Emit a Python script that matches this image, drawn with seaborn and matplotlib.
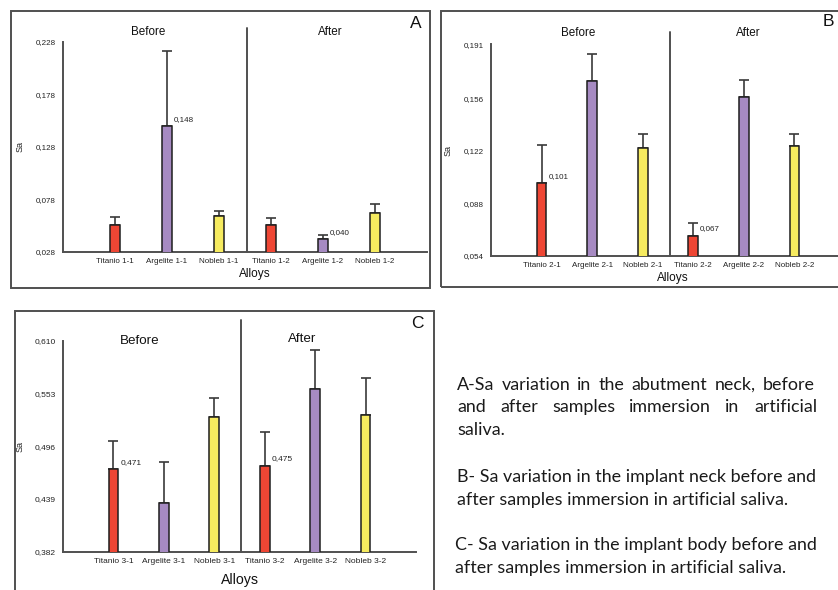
import matplotlib
matplotlib.use("Agg")
import matplotlib.pyplot as plt
from matplotlib.patches import Rectangle
import numpy as np
import pandas as pd
import seaborn as sns

# ---------------- data ----------------
cats_A = ["Titanio 1-1", "Argelite 1-1", "Nobleb 1-1", "Titanio 1-2", "Argelite 1-2", "Nobleb 1-2"]
sa_A = [0.054, 0.148, 0.062, 0.054, 0.040, 0.065]
upper_A = [0.061, 0.219, 0.067, 0.060, 0.044, 0.074]
ticks_A = [0.028, 0.078, 0.128, 0.178, 0.228]
ticklabels_A = ["0,028", "0,078", "0,128", "0,178", "0,228"]
vlabels_A = {1: "0,148", 4: "0,040"}

cats_B = ["Titanio 2-1", "Argelite 2-1", "Nobleb 2-1", "Titanio 2-2", "Argelite 2-2", "Nobleb 2-2"]
sa_B = [0.101, 0.167, 0.124, 0.067, 0.157, 0.125]
upper_B = [0.126, 0.185, 0.133, 0.075, 0.168, 0.133]
ticks_B = [0.054, 0.088, 0.122, 0.156, 0.191]
ticklabels_B = ["0,054", "0,088", "0,122", "0,156", "0,191"]
vlabels_B = {0: "0,101", 3: "0,067"}

cats_C = ["Titanio 3-1", "Argelite 3-1", "Nobleb 3-1", "Titanio 3-2", "Argelite 3-2", "Nobleb 3-2"]
sa_C = [0.471, 0.435, 0.528, 0.475, 0.558, 0.530]
upper_C = [0.502, 0.479, 0.548, 0.511, 0.600, 0.570]
ticks_C = [0.382, 0.439, 0.496, 0.553, 0.610]
ticklabels_C = ["0,382", "0,439", "0,496", "0,553", "0,610"]
vlabels_C = {0: "0,471", 3: "0,475"}

colors = ["#EE4634", "#A68AC2", "#F6EB5F", "#EE4634", "#A68AC2", "#F6EB5F"]

caption_A = ["A-Sa variation in the abutment neck, before",
             "and after samples immersion in artificial",
             "saliva."]
caption_B = ["B- Sa variation in the implant neck before and",
             "after samples immersion in artificial saliva."]
caption_C = ["C- Sa variation in the implant body before and",
             "after samples immersion in artificial saliva."]

# ---------------- style ----------------
sns.set_theme(style="white")
plt.rcParams["font.family"] = ["Liberation Sans", "DejaVu Sans"]

W, H = 838, 590
fig = plt.figure(figsize=(W / 100, H / 100), dpi=100)
fig.patch.set_facecolor("white")

GRAY = "#505050"


def fx(px):
    return px / W


def fy(py):
    return 1 - py / H


def rect(l, t, r, b):
    return [fx(l), fy(b), (r - l) / W, (b - t) / H]


def frame(l, t, r, b):
    fig.patches.append(Rectangle((fx(l), fy(b)), (r - l) / W, (b - t) / H,
                                 transform=fig.transFigure, fill=False,
                                 edgecolor=GRAY, linewidth=1.4, zorder=0))


def panel(box, cats, vals, upper, ticks, ticklabels, vlabels, ylim,
          divider_top_px, before_xy, after_xy, letter_xy, letter,
          alloys_xy, sa_xy, fs_tick, fs_head, fs_alloys):
    l, t, r, b = box
    ax = fig.add_axes(rect(l, t, r, b))
    ax.set_facecolor("none")
    df = pd.DataFrame({"Alloy": cats, "Sa": vals})
    sns.barplot(data=df, x="Alloy", y="Sa", hue="Alloy", order=cats, hue_order=cats,
                palette=colors, saturation=1, width=0.19, edgecolor="#1e1e1e",
                linewidth=1.1, legend=False, ax=ax, zorder=3)
    err = [np.zeros(len(vals)), np.array(upper) - np.array(vals)]
    ax.errorbar(np.arange(len(cats)), vals, yerr=err, fmt="none", ecolor="#3a3a3a",
                elinewidth=1.2, capsize=3.6, capthick=1.2, zorder=2)
    ax.set_xlim(-1, 6)
    ax.set_ylim(*ylim)
    ax.set_yticks(ticks)
    ax.set_yticklabels(ticklabels, fontsize=fs_tick, color="#222222")
    ax.set_xticks(range(len(cats)))
    ax.set_xticklabels(cats, fontsize=fs_tick, color="#222222")
    ax.set_xticks([6], minor=True)
    ax.tick_params(axis="both", which="both", direction="out", length=3, width=1,
                   color=GRAY, pad=2)
    ax.tick_params(axis="x", which="major", pad=1.5)
    ax.set_xlabel("")
    ax.set_ylabel("")
    for s in ["top", "right"]:
        ax.spines[s].set_visible(False)
    for s in ["left", "bottom"]:
        ax.spines[s].set_color(GRAY)
        ax.spines[s].set_linewidth(1.4)
    for i, txt in vlabels.items():
        ax.annotate(txt, (i, vals[i]), xytext=(5, 5), textcoords="offset points",
                    ha="left", va="center", fontsize=fs_tick, color="#222222")
    # divider
    ymax = (b - divider_top_px) / (b - t)
    ax.axvline(2.53, ymin=0, ymax=ymax, color=GRAY, linewidth=1.4, clip_on=False)
    fig.text(fx(before_xy[0]), fy(before_xy[1]), "Before", ha="center", va="center",
             fontsize=fs_head, color="#111111")
    fig.text(fx(after_xy[0]), fy(after_xy[1]), "After", ha="center", va="center",
             fontsize=fs_head, color="#111111")
    fig.text(fx(letter_xy[0]), fy(letter_xy[1]), letter, ha="center", va="center",
             fontsize=12.5, color="#111111")
    fig.text(fx(alloys_xy[0]), fy(alloys_xy[1]), "Alloys", ha="center", va="center",
             fontsize=fs_alloys, color="#111111")
    fig.text(fx(sa_xy[0]), fy(sa_xy[1]), "Sa", ha="center", va="center",
             rotation=90, fontsize=6.5, color="#222222")
    return ax


frame(11, 11, 430, 288)
frame(441, 11, 845, 287)
frame(15, 311, 434, 600)

panel((63, 42, 427, 252), cats_A, sa_A, upper_A, ticks_A, ticklabels_A, vlabels_A,
      (0.028, 0.228), 28, (148, 32), (330, 32), (416, 23), "A",
      (255, 274), (20, 147), 5.8, 8.4, 8.6)
panel((491, 44.3, 845, 255.7), cats_B, sa_B, upper_B, ticks_B, ticklabels_B, vlabels_B,
      (0.054, 0.191), 32, (578, 33), (748, 33), (828, 22), "B",
      (673, 278), (448, 150), 5.8, 8.4, 8.6)
panel((63, 340.7, 416, 551.7), cats_C, sa_C, upper_C, ticks_C, ticklabels_C, vlabels_C,
      (0.382, 0.610), 320, (140, 341), (302, 339), (417, 323), "C",
      (240, 580), (20, 446), 6.0, 9.6, 10.2)

# ---------------- caption text ----------------
CAP_FONT = ["Lato", "DejaVu Sans"]
CAP_FS = 12.85
renderer = fig.canvas.get_renderer()


def justified(line, x0, x1, y):
    words = line.split()
    widths = []
    for w in words:
        t = fig.text(0, 0, w, fontsize=CAP_FS, family=CAP_FONT)
        bb = t.get_window_extent(renderer=renderer)
        widths.append(bb.width)
        t.remove()
    gap = ((x1 - x0) - sum(widths)) / (len(words) - 1)
    x = x0
    for w, wd in zip(words, widths):
        fig.text(fx(x), fy(y), w, fontsize=CAP_FS, family=CAP_FONT,
                 ha="left", va="center", color="#1a1a1a")
        x += wd + gap


def plain(line, x0, y):
    fig.text(fx(x0), fy(y), line, fontsize=CAP_FS, family=CAP_FONT,
             ha="left", va="center", color="#1a1a1a")


justified(caption_A[0], 457, 815, 385)
justified(caption_A[1], 457, 817, 407)
plain(caption_A[2], 457, 430)
plain(caption_B[0], 457, 477)
plain(caption_B[1], 457, 500)
plain(caption_C[0], 455, 545)
plain(caption_C[1], 455, 568)

fig.savefig("out.png", dpi=100, facecolor="white")
